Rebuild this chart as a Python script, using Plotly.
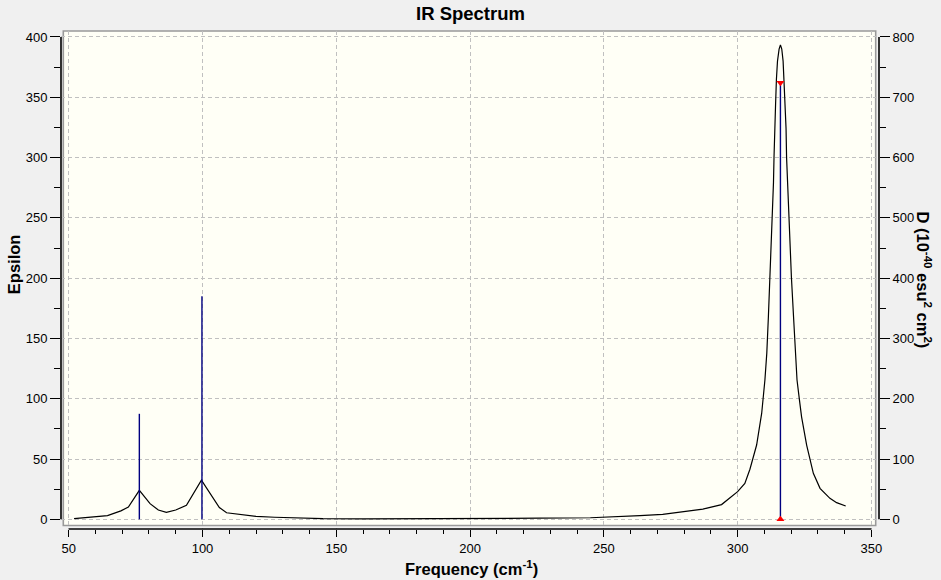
import plotly.graph_objects as go

# broadened spectrum
freq = [52, 55.5, 60, 64.5, 69.5, 72.3, 76.4, 80.4, 83.5, 86.5, 90, 94, 99.6, 103.3, 106.3, 109, 114, 120,
        127, 135, 145, 160, 190, 200, 226, 245, 254, 263.5, 272, 280, 287, 294, 300, 302.7, 304.6, 307.1,
        309.0, 310.2, 310.9, 311.5, 312.1, 312.7, 313.2, 313.4, 313.6, 313.8, 314.2, 314.5, 314.9, 315.5,
        316.0, 316.5, 317.0, 317.3, 317.7, 318.1, 318.3, 318.7, 319.0, 319.4, 320.1, 320.9, 321.6, 322.2,
        323.1, 323.9, 325.8, 328.3, 330.8, 334.5, 337.0, 340.4]
epsilon = [0.6, 1.3, 2.0, 3.1, 7.0, 10.2, 24, 13, 7.7, 5.8, 7.7, 11.7, 32.5, 20.1, 9.8, 5.4, 4.0, 2.4,
           1.7, 1.0, 0.5, 0.3, 0.4, 0.7, 0.9, 1.3, 2.0, 3.0, 4.1, 6.3, 8.5, 12.2, 22.9, 29.8, 41.5, 61.6,
           88, 115.5, 137.6, 168, 201, 231.5, 256, 279, 300, 324, 345, 365, 380, 390,
           393.5, 390, 380, 365, 345, 324, 300, 278, 256, 231.5, 201, 168, 137.6, 115.5,
           99, 85, 61.6, 38.1, 25.7, 17.4, 13.8, 11]

# stick spectrum, dipole strength D
stick_freq = [76.4, 99.8, 316.0]
stick_d = [175, 370, 724]
selected = 2  # index of the highlighted mode

FONT = "Liberation Sans, Arial, sans-serif"
GRID = "#c0c0c0"

# plot domain in pixels (left, right, top, bottom)
L, R, T, B = 61, 879.3, 30.7, 529
W, H = R - L, B - T


def px(x):
    return (x - L) / W


def py(y):
    return (B - y) / H


stick_x, stick_y = [], []
for f, d in zip(stick_freq, stick_d):
    stick_x += [f, f, None]
    stick_y += [0, d, None]

fig = go.Figure()
fig.add_trace(go.Scatter(x=freq, y=epsilon, mode="lines", line=dict(color="black", width=1.2),
                         showlegend=False, hoverinfo="skip"))
fig.add_trace(go.Scatter(x=stick_x, y=stick_y, yaxis="y2", mode="lines",
                         line=dict(color="#000080", width=1.4), showlegend=False, hoverinfo="skip"))
fig.add_trace(go.Scatter(x=[stick_freq[selected]] * 2, y=[stick_d[selected], 0], yaxis="y2",
                         mode="markers",
                         marker=dict(symbol=["triangle-down", "triangle-up"], size=7, color="#ff0000",
                                     line=dict(width=0)),
                         showlegend=False, hoverinfo="skip"))

tickfont = dict(family=FONT, size=13, color="black")
fig.update_layout(
    width=941, height=580,
    margin=dict(l=L, r=941 - R, t=T, b=580 - B, pad=0, autoexpand=False),
    paper_bgcolor="#f0f0f0", plot_bgcolor="#f0f0f0",
    font=dict(family=FONT, size=12, color="black"),
    xaxis=dict(range=[47.12, 352.84], tickmode="linear", tick0=50, dtick=50,
               ticks="outside", ticklen=7, tickwidth=1.2, tickcolor="black",
               minor=dict(dtick=10, ticks="outside", ticklen=4, tickwidth=1, tickcolor="black",
                          showgrid=False),
               showgrid=True, gridcolor=GRID, griddash="4px,3px", gridwidth=1,
               showline=False, zeroline=False, tickfont=tickfont, automargin=False),
    yaxis=dict(range=[-8.04, 404.97], tickmode="linear", tick0=0, dtick=50,
               ticks="outside", ticklen=10, tickwidth=1.2, tickcolor="black",
               minor=dict(dtick=25, ticks="outside", ticklen=6, tickwidth=1, tickcolor="black",
                          showgrid=False),
               showgrid=True, gridcolor=GRID, griddash="4px,3px", gridwidth=1,
               showline=False, zeroline=False, tickfont=tickfont, automargin=False),
    yaxis2=dict(range=[-16.08, 809.94], overlaying="y", side="right", tickmode="linear", tick0=0,
                dtick=100, ticks="outside", ticklen=10, tickwidth=1.2, tickcolor="black",
                minor=dict(dtick=50, ticks="outside", ticklen=6, tickwidth=1, tickcolor="black",
                           showgrid=False),
                showgrid=False, showline=False, zeroline=False, tickfont=tickfont, automargin=False),
)

# ivory frame of the plotting area
fig.add_shape(type="rect", xref="paper", yref="paper",
              x0=px(63.3), x1=px(876), y0=py(525.5), y1=py(30.7),
              fillcolor="#fffff6", line=dict(color="#999999", width=1.6), layer="below")
# detached axis lines spanning only the labelled range
fig.add_shape(type="line", xref="x", yref="paper", x0=50, x1=350, y0=0, y1=0,
              line=dict(color="black", width=1.6))
fig.add_shape(type="line", xref="paper", yref="y", x0=0, x1=0, y0=0, y1=400,
              line=dict(color="black", width=1.6))
fig.add_shape(type="line", xref="paper", yref="y2", x0=1, x1=1, y0=0, y1=800,
              line=dict(color="black", width=1.6))

bold = dict(family=FONT, size=16.5, color="black")
centered = dict(xref="paper", yref="paper", xanchor="center", yanchor="middle", showarrow=False)
fig.add_annotation(text="<b>IR Spectrum</b>", x=px(471), y=py(13),
                   font=dict(family=FONT, size=18.5, color="black"), **centered)
fig.add_annotation(text="<b>Frequency (cm<sup>-1</sup>)</b>", x=px(472), y=py(568), font=bold, **centered)
fig.add_annotation(text="<b>Epsilon</b>", x=px(14), y=py(264), textangle=-90, font=bold, **centered)
fig.add_annotation(text="<b>D (10<sup>-40</sup> esu<sup>2</sup> cm<sup>2</sup>)</b>", x=px(924), y=py(280),
                   textangle=90, font=bold, **centered)

# the page body has a default 8px margin; drop it so the figure fills the window
fig.write_html("out.html", config={"displayModeBar": False},
               post_script="document.body.style.margin='0';")
